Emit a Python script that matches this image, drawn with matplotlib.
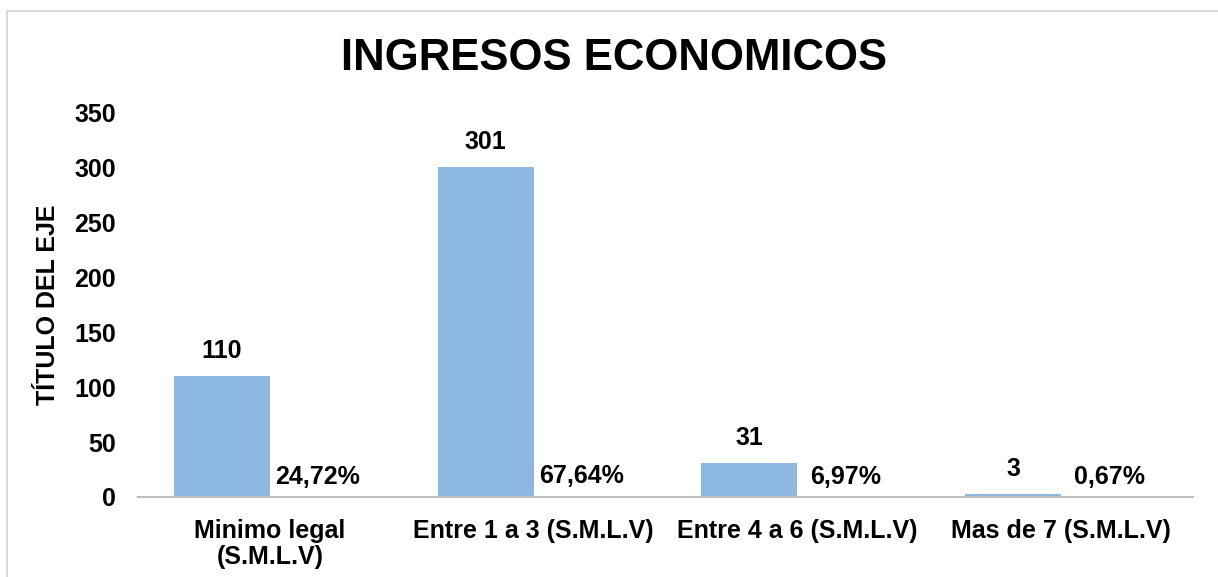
import matplotlib
matplotlib.use("Agg")
import matplotlib.pyplot as plt
from matplotlib.lines import Line2D
import numpy as np

categories = ["Minimo legal\n(S.M.L.V)", "Entre 1 a 3 (S.M.L.V)",
              "Entre 4 a 6 (S.M.L.V)", "Mas de 7 (S.M.L.V)"]
counts = [110, 301, 31, 3]
shares = [0.2472, 0.6764, 0.0697, 0.0067]
share_labels = ["24,72%", "67,64%", "6,97%", "0,67%"]

plt.rcParams["font.family"] = ["Liberation Sans", "DejaVu Sans"]
plt.rcParams["font.weight"] = "bold"

W, H = 1218, 577
fig = plt.figure(figsize=(W / 100, H / 100), dpi=100)
ax = fig.add_axes([138 / W, 1 - 497 / H, (1193 - 138) / W, (497 - 113) / H])

x = np.arange(len(categories))
w = 0.364
bars = ax.bar(x - w / 2, counts, w, color="#8db8e2", zorder=2)
pbars = ax.bar(x + w / 2, shares, w, color="#c0504d", zorder=2)

for b, v in zip(bars, counts):
    ax.annotate(str(v), (b.get_x() + b.get_width() / 2, b.get_height()),
                textcoords="offset points", xytext=(0, 13), ha="center",
                va="baseline", fontsize=18, fontweight="bold")
for b, lab in zip(pbars, share_labels):
    ax.annotate(lab, (b.get_x() + b.get_width() / 2, b.get_height()),
                textcoords="offset points", xytext=(0, 9.4), ha="center",
                va="baseline", fontsize=18, fontweight="bold")

ax.set_xlim(-0.5, 3.5)
ax.set_ylim(0, 350)
ax.set_yticks(range(0, 351, 50))
ax.set_xticks(x)
ax.set_xticklabels(categories, fontsize=18, fontweight="bold", linespacing=1.1)
ax.tick_params(axis="y", labelsize=18, length=0, pad=16)
ax.tick_params(axis="x", length=0, pad=16)
for lab in ax.get_yticklabels():
    lab.set_fontweight("bold")
ax.set_ylabel("TÍTULO DEL EJE", fontsize=18, fontweight="bold")
ax.yaxis.set_label_coords(-(138 - 60) / (1193 - 138), 0.5)
ax.spines[["top", "right", "left"]].set_visible(False)
ax.spines["bottom"].set_color("#bfbfbf")
ax.spines["bottom"].set_linewidth(1.5)
ax.spines["bottom"].set_zorder(3)

fig.text(614 / W, 1 - 58 / H, "INGRESOS ECONOMICOS", ha="center", va="center",
         fontsize=31.5, fontweight="bold")

# chart area border (only top and left visible in the crop)
fig.add_artist(Line2D([6.5 / W, 1], [1 - 10.5 / H, 1 - 10.5 / H],
                      transform=fig.transFigure, color="#d9d9d9", lw=1.5))
fig.add_artist(Line2D([6.5 / W, 6.5 / W], [0, 1 - 10.5 / H],
                      transform=fig.transFigure, color="#d9d9d9", lw=1.5))

fig.savefig("out.png", dpi=100)
